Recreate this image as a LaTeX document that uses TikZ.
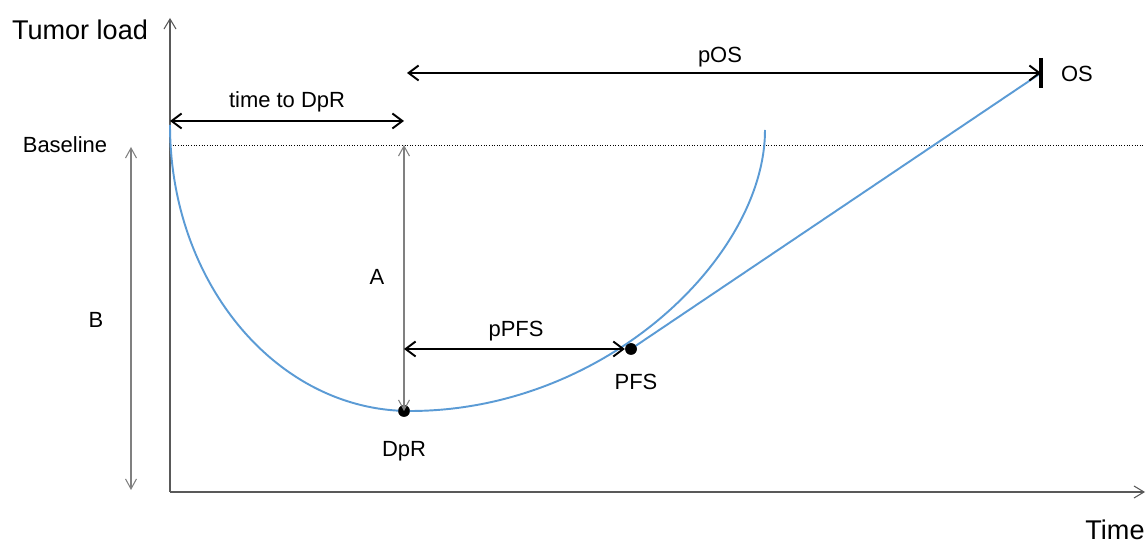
\documentclass[tikz,border=0pt]{standalone}
\usepackage{fontspec}
\setmainfont{Liberation Sans}
\usetikzlibrary{arrows.meta,positioning}

\begin{document}
\begin{tikzpicture}[
  x=0.02cm, y=-0.02cm,
  axis/.style={draw=black!65, line width=0.6pt, -{Straight Barb[length=2mm,width=2.4mm]}},
  thinarr/.style={draw=black!50, line width=0.6pt, {Straight Barb[length=2mm,width=2.2mm]}-{Straight Barb[length=2mm,width=2.2mm]}},
  dimarr/.style={draw=black, line width=1.1pt, {Straight Barb[length=2mm,width=3mm]}-{Straight Barb[length=2mm,width=3mm]}},
  curve/.style={draw={rgb,255:red,91;green,155;blue,213}, line width=1.1pt},
  dot/.style={circle, fill=black, inner sep=0pt, minimum size=0.23cm},
  lbl/.style={font=\fontsize{12.5}{15}\selectfont, inner sep=1pt},
  big/.style={font=\fontsize{15.4}{18}\selectfont, inner sep=1pt}
]
\useasboundingbox (0,0) rectangle (1147,543);
\coordinate (origin) at (170,492);
\coordinate (ytop)   at (170,18);
\coordinate (xend)   at (1145,492);
\coordinate (bright) at (1145,145);
\coordinate (start)  at (170,125);
\coordinate (bottom) at (410,411);
\coordinate (top)    at (765,130);
\coordinate (btop)   at (131,147);
\coordinate (bbot)   at (131,490);
\coordinate (abase)  at (404,145);
\coordinate (tdl)    at (170,121);
\coordinate (tdr)    at (404,121);
\coordinate (posl)   at (407,73);
\coordinate (ppfsl)  at (404,349);
\coordinate (osend)  at (1041,73);
\node[dot] (dpr) at (404,411) {};
\node[dot] (pfs) at (631,349) {};

\node[big] (tumor) at (80,30) {Tumor load};
\node[big] (time) at (1115,530) {Time};
\node[lbl] (baseline) at (65,145) {Baseline};
\node[lbl] (blbl) at (96,320) {B};
\node[lbl] (albl) at (377,277) {A};
\node[lbl] (tdlbl) at (287,102) {time to DpR};
\node[lbl] (poslbl) at (720,57) {pOS};
\node[lbl] (ppfslbl) at (516,331) {pPFS};
\node[lbl, below=0.45cm of dpr] (dprlbl) {DpR};
\node[lbl] (pfslbl) at (636,382) {PFS};
\node[lbl] (oslbl) at (1077,74) {OS};

\draw[axis] (origin) -- (ytop);
\draw[axis] (origin) -- (xend);
\draw[black, line width=0.5pt, densely dotted] (abase -| origin) -- (bright);

\draw[curve] (start) .. controls (170,283) and (277,411) .. (bottom)
  .. controls (606,411) and (765,256) .. (top);
\draw[curve] (pfs.center) -- (osend);
\node[dot] at (dpr) {};
\node[dot] at (pfs) {};

\draw[thinarr] (btop) -- (bbot);
\draw[thinarr] (abase) -- (dpr.center);
\draw[dimarr] (tdl) -- (tdr);
\draw[dimarr] (ppfsl) -- (pfs);
\draw[dimarr] (posl) -- (osend);
\draw[black, line width=2.2pt] ([yshift=0.3cm]osend) -- ([yshift=-0.3cm]osend);
\end{tikzpicture}
\end{document}
